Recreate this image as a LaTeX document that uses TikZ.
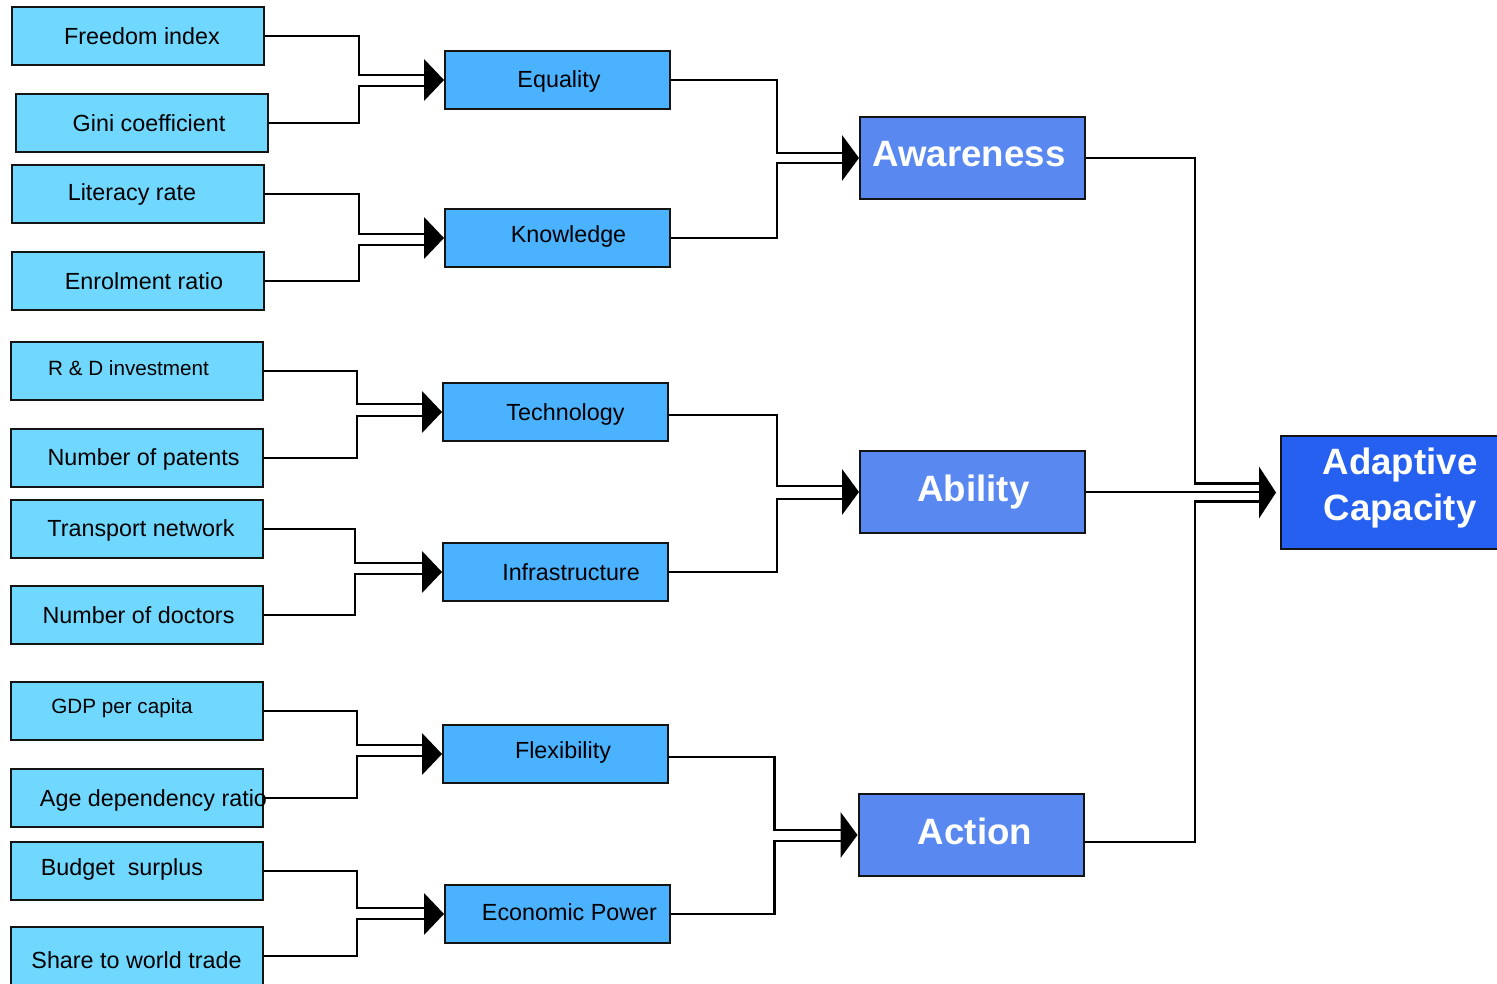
\documentclass[tikz,border=0pt]{standalone}
\usepackage{fontspec}
\setmainfont{Liberation Sans}
\usetikzlibrary{calc}
\definecolor{leafc}{RGB}{112,216,255}
\definecolor{midc}{RGB}{74,178,255}
\definecolor{dimc}{RGB}{88,136,240}
\definecolor{capc}{RGB}{38,96,240}
\definecolor{edge}{RGB}{20,20,20}
% filled arrow head whose tip touches the west side of a node
\newcommand\headat[3]{\fill ($(#1.west)+(-#2,-#3)$) -- (#1.west) -- ($(#1.west)+(-#2,#3)$) -- cycle;}
\begin{document}
\begin{tikzpicture}[x=0.75pt,y=-0.75pt,
  frame/.style={draw=edge, line width=1.5pt, inner sep=0pt},
  leaf/.style={frame, fill=leafc, minimum width=189pt, minimum height=43.5pt},
  midbox/.style={frame, fill=midc, minimum width=168.75pt, minimum height=43.5pt},
  dimbox/.style={frame, fill=dimc, minimum width=168.75pt, minimum height=61.5pt},
  capbox/.style={frame, fill=capc, minimum width=180pt, minimum height=84.75pt},
  lt/.style={font=\fontsize{17.5}{21}\selectfont, text=black, inner sep=0pt},
  st/.style={font=\fontsize{15.5}{19}\selectfont, text=black, inner sep=0pt},
  bt/.style={font=\bfseries\fontsize{27.5}{34}\selectfont, text=white, align=center, inner sep=0pt},
  conn/.style={line width=1.6pt, draw=black},
]
\clip (0,0) rectangle (1497,984);

% indicators
\node[leaf, label={[lt,shift={(4,0)}]center:Freedom index}] (fi) at (138,36) {};
\node[leaf, label={[lt,shift={(7,0)}]center:Gini coefficient}] (gi) at (142,123) {};
\node[leaf, label={[lt,shift={(-6,0)}]center:Literacy rate}] (lr) at (138,194) {};
\node[leaf, label={[lt,shift={(6,0)}]center:Enrolment ratio}] (er) at (138,281) {};
\node[leaf, label={[st,shift={(-8,-3)}]center:R \& D investment}] (rd) at (136.5,371) {};
\node[leaf, label={[lt,shift={(7,1)}]center:Number of patents}] (np) at (136.5,458) {};
\node[leaf, label={[lt,shift={(4.5,1)}]center:Transport network}] (tn) at (136.5,529) {};
\node[leaf, label={[lt,shift={(2,0)}]center:Number of doctors}] (nd) at (136.5,615) {};
\node[leaf, label={[st,shift={(-14.5,-3)}]center:GDP per capita}] (gdp) at (136.5,711) {};
\node[leaf, label={[lt,shift={(17,2)}]center:Age dependency ratio}] (adr) at (136.5,798) {};
\node[leaf, label={[lt,shift={(-14.5,-2)}]center:Budget\ \ surplus}] (bs) at (136.5,871) {};
\node[leaf, label={[lt,shift={(0,4)}]center:Share to world trade}] (sw) at (136.5,956) {};

% components
\node[midbox, label={[lt,shift={(1.5,1)}]center:Equality}] (eq) at (557.5,80) {};
\node[midbox, label={[lt,shift={(11,-2)}]center:Knowledge}] (kn) at (557.5,238) {};
\node[midbox, label={[lt,shift={(10,2)}]center:Technology}] (te) at (555.5,412) {};
\node[midbox, label={[lt,shift={(15.5,0)}]center:Infrastructure}] (inf) at (555.5,572) {};
\node[midbox, label={[lt,shift={(7.5,-2)}]center:Flexibility}] (fl) at (555.5,754) {};
\node[midbox, label={[lt,shift={(12,-2)}]center:Economic Power}] (ep) at (557.5,914) {};

% dimensions
\node[dimbox, label={[bt,shift={(-3.5,-4)}]center:Awareness}] (aw) at (972.5,158) {};
\node[dimbox, label={[bt,shift={(1,0)}]center:Ability}] (ab) at (972.5,492) {};
\node[dimbox, label={[bt,shift={(4,-4)}]center:Action}] (act) at (971,835) {};

% overall index
\node[capbox] (ac) at (1401,492.5) {};
\node[bt] (actxt) at (1400,488) {Adaptive\\Capacity};

% indicators -> components
\draw[conn] (fi.east) -| ($(eq.west)+(-85,-5)$) -- ($(eq.west)+(-18,-5)$);
\draw[conn] (gi.east) -| ($(eq.west)+(-85,6)$) -- ($(eq.west)+(-18,6)$);
\headat{eq}{20}{21}
\draw[conn] (lr.east) -| ($(kn.west)+(-85,-4)$) -- ($(kn.west)+(-18,-4)$);
\draw[conn] (er.east) -| ($(kn.west)+(-85,7)$) -- ($(kn.west)+(-18,7)$);
\headat{kn}{20}{21}
\draw[conn] (rd.east) -| ($(te.west)+(-85,-8)$) -- ($(te.west)+(-18,-8)$);
\draw[conn] (np.east) -| ($(te.west)+(-85,4)$) -- ($(te.west)+(-18,4)$);
\headat{te}{20}{21}
\draw[conn] (tn.east) -| ($(inf.west)+(-87,-9)$) -- ($(inf.west)+(-18,-9)$);
\draw[conn] (nd.east) -| ($(inf.west)+(-87,2)$) -- ($(inf.west)+(-18,2)$);
\headat{inf}{20}{21}
\draw[conn] (gdp.east) -| ($(fl.west)+(-85,-9)$) -- ($(fl.west)+(-18,-9)$);
\draw[conn] (adr.east) -| ($(fl.west)+(-85,2)$) -- ($(fl.west)+(-18,2)$);
\headat{fl}{20}{21}
\draw[conn] (bs.east) -| ($(ep.west)+(-87,-6)$) -- ($(ep.west)+(-18,-6)$);
\draw[conn] (sw.east) -| ($(ep.west)+(-87,5)$) -- ($(ep.west)+(-18,5)$);
\headat{ep}{20}{21}

% components -> dimensions
\draw[conn] (eq.east) -| ($(aw.west)+(-82,-5)$) -- ($(aw.west)+(-15,-5)$);
\draw[conn] (kn.east) -| ($(aw.west)+(-82,5)$) -- ($(aw.west)+(-15,5)$);
\headat{aw}{17}{23}
\draw[conn] ($(te.east)+(0,3)$) -| ($(ab.west)+(-82,-6)$) -- ($(ab.west)+(-15,-6)$);
\draw[conn] (inf.east) -| ($(ab.west)+(-82,7)$) -- ($(ab.west)+(-15,7)$);
\headat{ab}{17}{23}
\draw[conn] ($(fl.east)+(0,3)$) -| ($(act.west)+(-83,-5)$) -- ($(act.west)+(-15,-5)$);
\draw[conn] (ep.east) -| ($(act.west)+(-83,6)$) -- ($(act.west)+(-15,6)$);
\headat{act}{17}{23}

% dimensions -> overall index
\draw[conn] (aw.east) -| ($(ac.west)+(-85,-9)$) -- ($(ac.west)+(-19,-9)$);
\draw[conn] (ab.east) -- (ab.east -| {$(ac.west)+(-19,0)$});
\draw[conn] ($(act.east)+(0,7)$) -| ($(ac.west)+(-85,9)$) -- ($(ac.west)+(-19,9)$);
\fill ($(ac.west)+(-21,-26)$) -- ($(ac.west)+(-4,0)$) -- ($(ac.west)+(-21,26)$) -- cycle;
\end{tikzpicture}
\end{document}
